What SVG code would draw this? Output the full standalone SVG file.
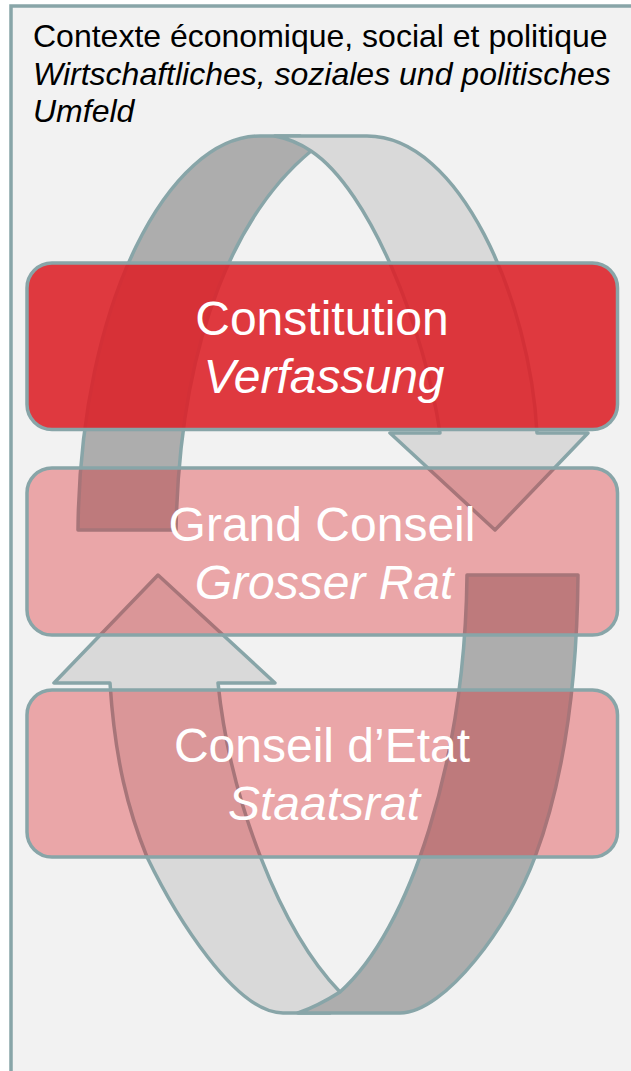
<svg xmlns="http://www.w3.org/2000/svg" width="631" height="1071" viewBox="0 0 631 1071">
  <style>
    .ctx { font-family: "Liberation Sans", Arial, sans-serif; font-size: 32px; fill: #000; }
    .it { font-style: italic; }
    .lbl { font-family: "Liberation Sans", Arial, sans-serif; font-size: 48px; fill: #fff; text-anchor: middle; }
    .box { fill: #dc2228; stroke: #88a5a8; stroke-width: 3.5; }
    .strong { fill-opacity: 0.89; }
    .soft { fill-opacity: 0.37; }
    .band { stroke: #88a5a8; stroke-width: 3.5; stroke-linejoin: round; }
    .dark { fill: #adadad; }
    .light { fill: #d9d9d9; }
  </style>
  <rect x="0" y="0" width="631" height="1071" fill="#ffffff"/>
  <g id="context">
    <rect x="11" y="6" width="660" height="1120" fill="#f2f2f2" stroke="#88a5a8" stroke-width="3.5"/>
    <text class="ctx" x="33" y="47">Contexte économique, social et politique</text>
    <text class="ctx it" x="33" y="84.5">Wirtschaftliches, soziales und politisches</text>
    <text class="ctx it" x="33" y="122">Umfeld</text>
  </g>
  <g id="connectors">
    <path id="arrow-top-back" class="band dark" d="M 78,530 C 80,300 170,136 260,136 L 300,136 L 311,151 C 240,210 180,330 176,530 Z"/>
    <path id="arrow-top-front" class="band light" d="M 275,136 L 367,136 C 460,136 530,300 537,433 L 588,433 L 495,530 L 390,433 L 440,433 C 425,330 370,190 311,151 Q 295,140 275,136 Z"/>
    <path id="arrow-bottom-back" class="band light" d="M 218,683 L 275,683 L 158,575 L 54,683 L 110,683 C 115,760 128,810 147,857 C 175,915 235,1013 283,1013 L 330,1013 L 340,992 C 280,930 230,800 218,683 Z"/>
    <path id="arrow-bottom-front" class="band dark" d="M 467,575 L 578,575 C 577,700 560,790 535,857 C 510,925 445,1013 400,1013 L 298,1013 Q 318,1006 340,992 C 410,930 465,760 467,575 Z"/>
  </g>
  <g id="constitution">
    <rect class="box strong" x="27" y="263" width="590.5" height="166.5" rx="25"/>
    <text class="lbl" x="322" y="335">Constitution</text>
    <text class="lbl it" x="324" y="393">Verfassung</text>
  </g>
  <g id="grand-conseil">
    <rect class="box soft" x="27" y="468" width="590.5" height="167" rx="25"/>
    <text class="lbl" x="322" y="541">Grand Conseil</text>
    <text class="lbl it" x="324" y="599">Grosser Rat</text>
  </g>
  <g id="conseil-etat">
    <rect class="box soft" x="27" y="690" width="590.5" height="167" rx="25"/>
    <text class="lbl" x="322" y="762">Conseil d’Etat</text>
    <text class="lbl it" x="324" y="820">Staatsrat</text>
  </g>
</svg>
